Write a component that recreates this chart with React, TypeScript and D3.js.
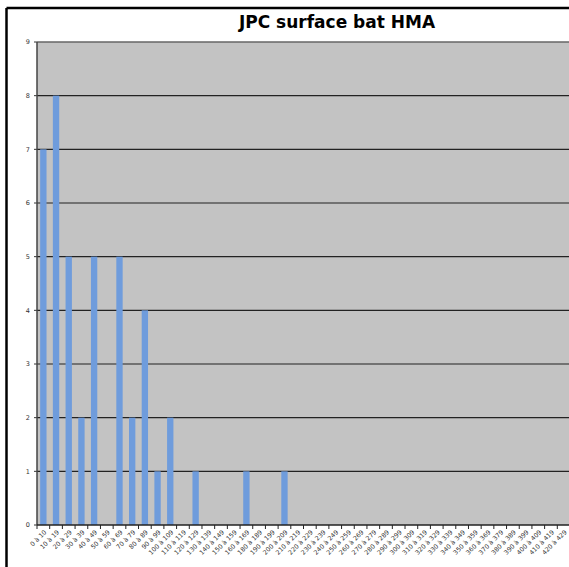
import React, { useMemo } from 'react';
import * as d3 from 'd3';

const WIDTH = 569;
const HEIGHT = 567;
const MARGIN = { top: 42, right: -1, bottom: 42, left: 37 };

// 170 à 179 is missing from the original sheet
const starts = [0, 10, 20, 30, 40, 50, 60, 70, 80, 90, 100, 110, 120, 130, 140, 150, 160,
  180, 190, 200, 210, 220, 230, 240, 250, 260, 270, 280, 290, 300, 310, 320, 330, 340,
  350, 360, 370, 380, 390, 400, 410, 420];
const categories = starts.map((s) => (s === 0 ? '0 à 10' : `${s} à ${s + 9}`));
const counts = [7, 8, 5, 2, 5, 0, 5, 2, 4, 1, 2, 0, 1, 0, 0, 0, 1,
  0, 0, 1, 0, 0, 0, 0, 0, 0, 0, 0, 0, 0, 0, 0, 0, 0,
  0, 0, 0, 0, 0, 0, 0, 0];
const yTicks = [0, 1, 2, 3, 4, 5, 6, 7, 8, 9];

const App = () => {
  const boundsWidth = WIDTH - MARGIN.left - MARGIN.right;
  const boundsHeight = HEIGHT - MARGIN.top - MARGIN.bottom;

  const xScale = useMemo(
    () => d3.scaleBand().domain(categories).range([0, boundsWidth]).paddingInner(0.5).paddingOuter(0.25),
    [boundsWidth]
  );
  const yScale = useMemo(() => d3.scaleLinear().domain([0, 9]).range([boundsHeight, 0]), [boundsHeight]);

  const step = xScale.step();
  const offset = xScale.range()[0] + xScale.paddingOuter() * step - (xScale.paddingInner() * step) / 2;

  return (
    <svg width={WIDTH} height={HEIGHT} style={{ position: 'absolute', left: 0, top: 0, background: '#fff' }}>
      {/* outer frame */}
      <line x1={6.5} x2={WIDTH} y1={8} y2={8} stroke="#000" strokeWidth={2.5} />
      <line x1={6.5} x2={6.5} y1={8} y2={HEIGHT} stroke="#000" strokeWidth={2.5} />
      <text x={337} y={28} textAnchor="middle" fontFamily="DejaVu Sans" fontWeight="bold" fontSize={17} fill="#000">
        JPC surface bat HMA
      </text>
      <g transform={`translate(${MARGIN.left},${MARGIN.top})`}>
        <rect x={0} y={0} width={boundsWidth} height={boundsHeight} fill="#c3c3c3" />
        {yTicks.map((t) => (
          <g key={t}>
            {t > 0 && (
              <line x1={0} x2={boundsWidth} y1={yScale(t)} y2={yScale(t)}
                stroke={t === 9 ? '#666' : '#222'} strokeWidth={t === 9 ? 1.5 : 1.2} />
            )}
            <line x1={-3} x2={0} y1={yScale(t)} y2={yScale(t)} stroke="#333" strokeWidth={1} />
            <text x={-7} y={yScale(t)} dy="0.35em" textAnchor="end" fontFamily="DejaVu Sans" fontSize={6.5} fill="#333">
              {t}
            </text>
          </g>
        ))}
        {counts.map((c, i) =>
          c > 0 ? (
            <rect key={i} x={xScale(categories[i])} width={xScale.bandwidth()} y={yScale(c)}
              height={boundsHeight - yScale(c)} fill="#6f9cdc" />
          ) : null
        )}
        <line x1={0} x2={0} y1={0} y2={boundsHeight} stroke="#444" strokeWidth={1.5} />
        <line x1={0} x2={boundsWidth} y1={boundsHeight} y2={boundsHeight} stroke="#222" strokeWidth={1.5} />
        {categories.map((c, i) => {
          const bx = offset + i * step;
          const cx = (xScale(c) as number) + xScale.bandwidth() / 2;
          return (
            <g key={c}>
              <line x1={bx} x2={bx} y1={boundsHeight} y2={boundsHeight + 4} stroke="#222" strokeWidth={1} />
              <text transform={`translate(${cx + 2},${boundsHeight + 6}) rotate(-45)`} textAnchor="end"
                dy="0.35em" fontFamily="DejaVu Sans" fontSize={6.3} fill="#333">
                {c}
              </text>
            </g>
          );
        })}
      </g>
    </svg>
  );
};

export default App;
